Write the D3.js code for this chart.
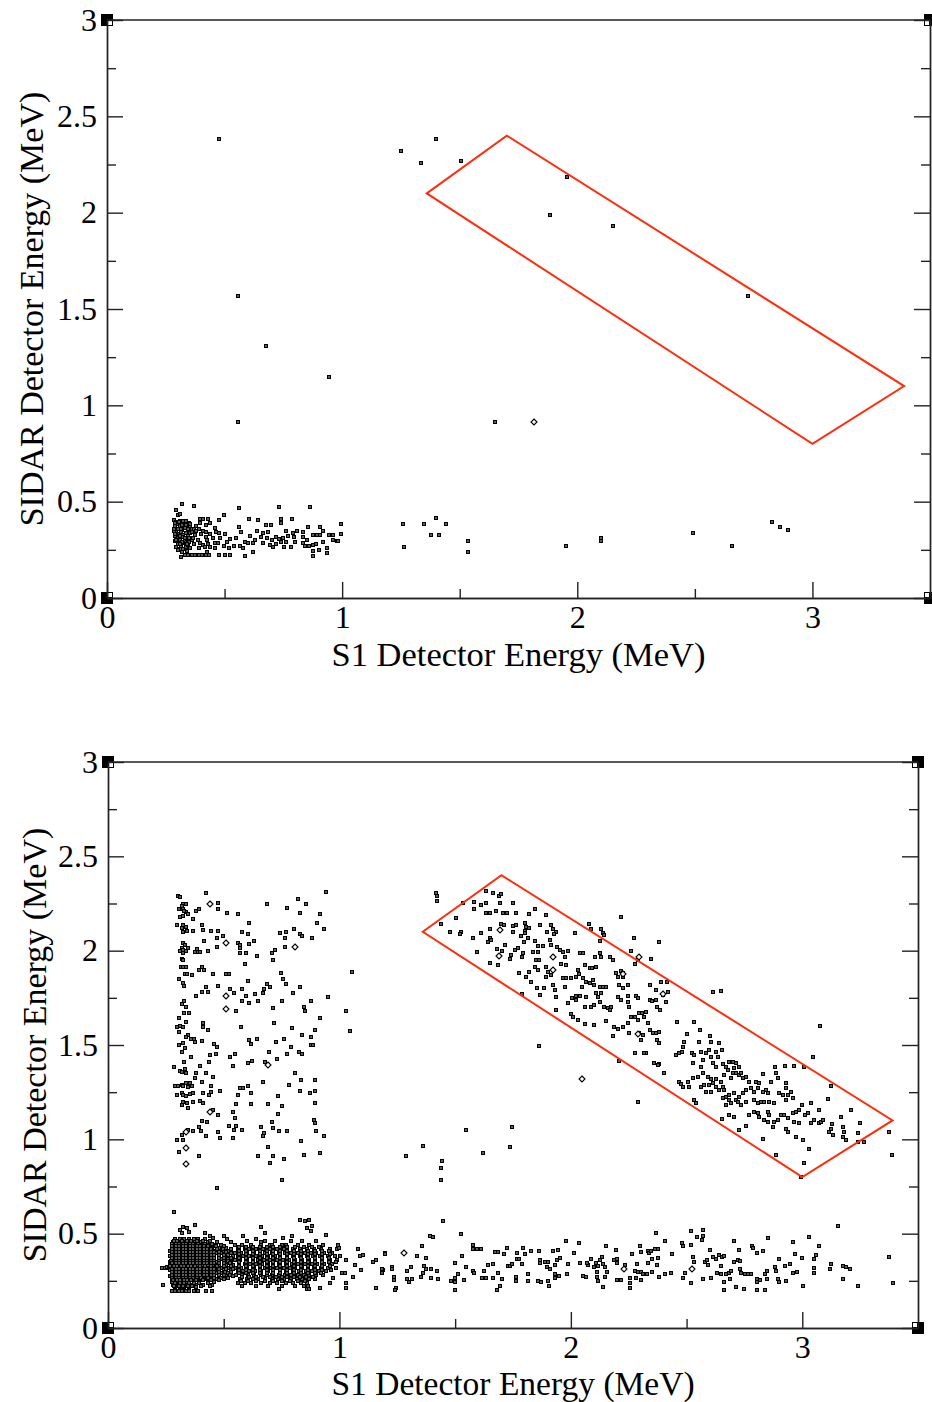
<!DOCTYPE html>
<html><head><meta charset="utf-8">
<script src="https://cdn.jsdelivr.net/npm/d3@7"></script>
<style>
body{margin:0;background:#fff}
svg{display:block}
text{font-family:"Liberation Serif","Times New Roman",serif;fill:#000}
</style>
</head><body>
<svg id="c" width="932" height="1402"></svg>
<script>
// ---------- axis ticks ----------
const xMajor = [0, 1, 2, 3];
const xMinor = [0.5, 1.5, 2.5];
const yMajor = [0, 0.5, 1, 1.5, 2, 2.5, 3];
const yMinor = [0.25, 0.75, 1.25, 1.75, 2.25, 2.75];
const xLabels = ["0", "1", "2", "3"];
const yLabels = ["0", "0.5", "1", "1.5", "2", "2.5", "3"];
const xTitle = "S1 Detector Energy (MeV)";
const yTitle = "SIDAR Detector Energy (MeV)";

// ---------- gate polygon (MeV) ----------
const gateX = [1.36, 1.70, 3.39, 3.00];
const gateY = [2.10, 2.40, 1.10, 0.80];

// ---------- top panel data ----------
const topHigh = [[0.475,2.38],[1.249,2.322],[1.336,2.256],[1.401,2.382],[1.506,2.268],[1.958,2.187],[1.884,1.986],[2.15,1.932],[2.725,1.567],[0.559,1.567],[0.678,1.308],[0.945,1.147],[0.555,0.913],[1.648,0.913]];
const topDiamonds = [[1.818,0.913]];
const topLow = [
[0.32,0.49],[0.37,0.475],[0.294,0.457],[0.56,0.465],[0.733,0.474],[0.863,0.474],[0.496,0.43],[0.30,0.43],[0.309,0.436],
[0.285,0.405],[0.295,0.395],[0.30,0.385],[0.31,0.40],[0.318,0.39],[0.325,0.398],[0.338,0.40],[0.348,0.39],[0.29,0.375],[0.30,0.36],[0.31,0.372],[0.32,0.355],[0.333,0.365],[0.343,0.35],[0.352,0.37],[0.362,0.36],[0.295,0.34],[0.305,0.33],[0.315,0.345],[0.325,0.325],[0.335,0.337],[0.345,0.32],[0.355,0.335],[0.30,0.31],[0.31,0.30],[0.32,0.315],[0.33,0.295],[0.34,0.305],[0.35,0.29],[0.36,0.30],[0.30,0.28],[0.315,0.27],[0.325,0.285],[0.335,0.265],[0.345,0.275],[0.355,0.26],[0.31,0.255],[0.32,0.24],[0.29,0.32],[0.37,0.28],[0.365,0.31],[0.283,0.35],[0.288,0.295],
[0.29,0.39],[0.305,0.395],[0.32,0.38],[0.34,0.38],[0.355,0.385],[0.285,0.36],[0.315,0.36],[0.345,0.36],[0.29,0.33],[0.31,0.32],[0.33,0.31],[0.35,0.31],[0.295,0.30],[0.32,0.29],[0.34,0.28],[0.31,0.28],[0.295,0.265],[0.325,0.255],[0.34,0.245],[0.30,0.25],[0.335,0.38],[0.36,0.345],[0.37,0.36],[0.38,0.375],[0.39,0.36],[0.40,0.33],[0.385,0.30],[0.39,0.26],[0.41,0.35],[0.44,0.33],[0.45,0.31],[0.43,0.28],[0.46,0.26],[0.48,0.31],[0.50,0.33],[0.51,0.29],[0.54,0.27],[0.55,0.31],[0.57,0.34],[0.58,0.26],[0.63,0.30],[0.64,0.35],[0.68,0.31],[0.70,0.30],[0.72,0.28],[0.76,0.29],[0.77,0.32],[0.80,0.29],[0.81,0.35],[0.85,0.30],[0.89,0.28],[0.90,0.25],[0.92,0.35],[0.96,0.30],
[0.394,0.408],[0.408,0.408],[0.43,0.408],[0.475,0.405],[0.394,0.387],[0.42,0.379],[0.436,0.387],[0.38,0.35],[0.376,0.327],[0.422,0.344],[0.42,0.318],[0.425,0.301],[0.458,0.362],[0.465,0.344],[0.476,0.339],[0.397,0.284],[0.408,0.276],[0.415,0.263],[0.458,0.284],[0.472,0.287],[0.436,0.266],[0.425,0.24],[0.524,0.305],[0.496,0.27],[0.518,0.258],[0.561,0.37],[0.564,0.27],[0.586,0.292],[0.599,0.284],[0.62,0.284],[0.609,0.322],[0.623,0.24],[0.589,0.218],[0.606,0.408],[0.641,0.405],[0.677,0.379],[0.698,0.379],[0.74,0.408],[0.787,0.408],[0.74,0.387],[0.662,0.336],[0.655,0.318],[0.684,0.344],[0.662,0.284],[0.693,0.275],[0.705,0.266],[0.719,0.318],[0.733,0.305],[0.74,0.292],[0.747,0.31],[0.761,0.349],[0.754,0.266],[0.782,0.266],[0.789,0.336],[0.794,0.315],[0.832,0.344],[0.832,0.318],[0.835,0.287],[0.843,0.27],[0.86,0.27],[0.874,0.275],[0.853,0.37],[0.907,0.37],[0.874,0.327],[0.891,0.327],[0.874,0.244],[0.874,0.218],[0.907,0.327],[0.919,0.292],[0.945,0.327],[0.959,0.327],[0.997,0.384],[0.997,0.332],[0.977,0.296],[0.984,0.298],[0.935,0.258],[0.935,0.232],
[0.313,0.215],[0.33,0.223],[0.345,0.223],[0.36,0.223],[0.375,0.223],[0.39,0.223],[0.405,0.223],[0.42,0.223],[0.435,0.223],[0.475,0.223],[0.50,0.223],[0.521,0.223],
[1.258,0.384],[1.347,0.384],[1.398,0.415],[1.44,0.384],[1.377,0.327],[1.41,0.327],[1.263,0.265],[1.534,0.296],[1.534,0.239],[1.953,0.27],[2.10,0.31],[2.10,0.296],[2.49,0.337],[2.657,0.27],[2.826,0.394],[2.864,0.369],[2.898,0.353]
];

// ---------- bottom panel data ----------
const botUpperLeft = [
[0.303,2.29],[0.31,2.285],[0.423,2.304],
[0.325,2.25],[0.335,2.245],[0.318,2.235],[0.305,2.22],[0.325,2.22],[0.336,2.203],[0.346,2.195],[0.311,2.178],[0.325,2.185],[0.33,2.21],
[0.394,2.22],[0.382,2.21],[0.477,2.255],[0.477,2.22],[0.516,2.20],[0.56,2.195],[0.368,2.167],[0.685,2.248],[0.774,2.228],[0.823,2.274],[0.857,2.248],[0.829,2.202],[0.918,2.195],[0.944,2.31],[0.608,2.145],[0.903,2.149],[0.932,2.114],
[0.30,2.138],[0.325,2.138],[0.336,2.128],[0.318,2.119],[0.325,2.10],[0.342,2.106],[0.368,2.106],[0.408,2.136],[0.411,2.11],[0.444,2.106],[0.477,2.106],[0.495,2.078],[0.473,2.066],[0.416,2.052],[0.581,2.101],[0.603,2.089],[0.631,2.052],[0.56,2.043],[0.572,2.03],[0.61,2.034],[0.57,2.013],[0.57,1.986],[0.598,1.986],[0.472,2.018],[0.642,1.972],[0.742,2.096],[0.768,2.101],[0.764,2.066],[0.803,2.114],[0.829,2.089],[0.84,2.078],[0.883,2.066],[0.764,2.018],[0.708,1.99],[0.721,2.004],[0.713,1.951],
[0.325,2.04],[0.332,2.03],[0.318,2.013],[0.325,2.004],[0.336,2.0],[0.346,2.013],[0.311,2.0],[0.325,1.985],[0.318,1.955],[0.325,1.95],[0.315,1.912],[0.325,1.912],[0.336,1.912],[0.332,1.877],[0.342,1.877],[0.361,1.872],[0.308,1.848],[0.322,1.83],[0.328,1.813],
[0.383,2.01],[0.39,1.995],[0.375,1.995],[0.397,1.995],[0.433,2.0],[0.394,1.9],[0.408,1.912],[0.414,1.898],[0.454,1.877],[0.509,1.877],[0.521,1.877],[0.593,1.93],[0.746,1.884],[0.757,1.848],[0.603,1.84],[0.477,1.813],[0.526,1.795],[0.581,1.795],[0.423,1.81],[0.433,1.783],[0.408,1.783],[0.38,1.762],[0.544,1.778],[0.598,1.762],[0.636,1.769],[0.673,1.795],[0.67,1.778],[0.685,1.824],[0.702,1.81],[0.768,1.824],[0.80,1.778],[0.829,1.81],[0.581,1.735],[0.61,1.725],[0.649,1.735],[0.754,1.735],[0.875,1.735],[0.951,1.757],
[0.328,1.735],[0.318,1.718],[0.336,1.70],[0.328,1.668],[0.351,1.668],[0.552,1.682],[0.713,1.695],[0.846,1.704],[0.85,1.682],[1.027,1.682],
[0.308,1.642],[0.339,1.624],[0.296,1.597],[0.313,1.60],[0.325,1.594],[0.308,1.571],[0.411,1.619],[0.411,1.597],[0.433,1.58],[0.575,1.594],[0.718,1.619],[0.797,1.589],[0.84,1.553],[0.879,1.541],[0.876,1.50],[0.886,1.50],[0.918,1.642],[0.895,1.58],
[0.346,1.553],[0.357,1.53],[0.372,1.53],[0.375,1.518],[0.339,1.545],[0.407,1.52],[0.459,1.504],[0.469,1.491],[0.608,1.527],[0.62,1.504],[0.644,1.53],[0.725,1.518],[0.762,1.53],[0.791,1.491],[0.826,1.465],[0.84,1.453],
[0.308,1.50],[0.325,1.509],[0.318,1.465],[0.332,1.483],[0.44,1.447],[0.466,1.453],[0.526,1.438],[0.548,1.453],[0.696,1.465],[0.731,1.426],[0.774,1.453],[0.357,1.438],
[0.329,1.412],[0.397,1.391],[0.437,1.412],[0.285,1.385],[0.311,1.364],[0.332,1.371],[0.339,1.354],[0.318,1.359],[0.538,1.391],[0.603,1.403],[0.624,1.417],[0.677,1.412],[0.382,1.35],[0.423,1.35],[0.454,1.329],[0.375,1.324],[0.807,1.35],
[0.29,1.285],[0.303,1.285],[0.318,1.29],[0.325,1.285],[0.339,1.297],[0.354,1.30],[0.361,1.282],[0.347,1.276],[0.408,1.305],[0.447,1.282],
[0.296,1.234],[0.318,1.247],[0.325,1.234],[0.339,1.229],[0.354,1.24],[0.368,1.247],[0.411,1.247],[0.437,1.234],[0.447,1.252],[0.483,1.256],[0.56,1.234],[0.57,1.27],[0.584,1.27],[0.603,1.282],[0.62,1.247],[0.67,1.305],[0.735,1.229],[0.78,1.286],[0.829,1.256],[0.872,1.247],[0.896,1.256],[0.893,1.314],[0.836,1.314],
[0.325,1.20],[0.342,1.19],[0.368,1.20],[0.397,1.204],[0.411,1.194],[0.318,1.181],[0.347,1.164],[0.555,1.187],[0.616,1.187],[0.692,1.187],[0.754,1.176],[0.895,1.194],
[0.454,1.158],[0.477,1.128],[0.538,1.146],[0.549,1.111],[0.735,1.134],[0.889,1.102],[0.896,1.088],[0.407,1.098],[0.429,1.093],[0.522,1.072],[0.555,1.072],[0.544,1.052],[0.581,1.052],[0.659,1.067],[0.708,1.093],[0.713,1.058],[0.739,1.045],[0.774,1.045],[0.90,1.045],[0.932,1.017],
[0.344,1.052],[0.368,1.045],[0.394,1.063],[0.40,1.045],[0.318,1.022],[0.296,0.996],[0.325,0.996],[0.423,1.017],[0.477,1.037],[0.483,1.005],[0.538,1.005],[0.675,1.031],[0.67,1.017],[0.834,0.991],[0.69,0.957],[0.308,0.931],[0.394,0.913],[0.649,0.911],[0.713,0.911],[0.762,0.895],[0.699,0.876],[0.846,0.916],[0.918,0.925],[0.752,0.784],[0.472,0.74],[0.285,0.613],
[1.053,1.887],[1.044,1.574]
];
const botMiddle = [
[1.548,1.052],[1.745,1.067],[1.361,0.964],[1.735,0.957],[1.289,0.913],[1.62,0.925],[1.444,0.885],[1.437,0.85],[1.437,0.784]
];
const botBand = [
[1.416,2.304],[1.421,2.29],[1.421,2.263],[1.44,2.141],[1.505,2.175],[1.479,2.101],[1.526,2.101],[1.519,2.088],[1.534,2.251],
[1.581,2.256],[1.613,2.242],[1.634,2.254],[1.634,2.318],[1.663,2.307],[1.69,2.29],[1.699,2.30],
[1.581,2.219],[1.634,2.201],[1.652,2.201],[1.678,2.212],[1.692,2.251],[1.706,2.201],[1.724,2.201],[1.75,2.254],[1.764,2.198],[1.821,2.194],[1.843,2.219],[1.891,2.189],
[1.577,2.065],[1.613,2.092],[1.649,2.113],[1.649,2.065],[1.642,2.048],[1.656,2.056],
[1.699,2.141],[1.709,2.136],[1.75,2.131],[1.764,2.136],[1.75,2.101],
[1.594,1.995],[1.68,2.007],[1.703,2.0],[1.714,2.03],[1.652,1.936],[1.685,1.924],[1.735,1.954],[1.742,1.977],[1.757,2.003],[1.771,2.012],[1.79,1.964],[1.793,1.986],
[1.80,2.145],[1.807,2.127],[1.80,2.106],[1.804,2.092],[1.819,2.118],[1.786,2.078],[1.796,2.048],[1.814,2.065],
[1.847,2.053],[1.857,2.025],[1.836,1.995],[1.857,1.995],[1.879,2.025],
[1.865,2.136],[1.896,2.101],[1.915,2.136],[1.922,2.113],[1.937,2.101],[1.929,2.088],[1.908,2.056],[1.915,2.03],[1.94,2.021],[1.951,2.003],[1.968,1.995],[1.987,2.0],[1.958,1.929],[1.98,1.924],[1.973,1.968],
[1.85,1.95],[1.862,1.95],[1.893,1.915],[1.90,1.888],[1.915,1.871],[1.893,1.862],[1.847,1.915],[1.857,1.897],[1.774,1.88],[1.807,1.862],[1.821,1.888],[1.829,1.836],[1.853,1.80],[1.882,1.80],[1.865,1.765],[1.79,1.77],
[1.922,1.818],[1.93,1.791],[1.934,1.752],[1.973,1.805],[1.966,1.853],[1.98,1.853],[2.001,1.853],[2.023,1.862],
[2.016,2.092],[2.04,1.986],[2.052,1.986],[2.059,1.924],[2.081,1.906],[2.092,1.906],[2.11,1.915],[2.03,1.897],[2.037,1.876],[2.052,1.853],[2.049,1.809],[2.066,1.836],[2.081,1.827],
[2.095,1.844],[2.102,1.818],[2.124,1.809],[2.141,1.809],[2.152,1.809],
[2.11,1.774],[2.131,1.777],[2.117,1.756],[2.124,1.73],[2.023,1.76],[2.04,1.76],[2.066,1.756],[1.987,1.72],[2.006,1.747],[2.023,1.738],[1.937,1.685],[2.001,1.664],[2.011,1.646],[2.03,1.632],[2.059,1.703],[2.088,1.703],[2.102,1.712],[2.059,1.611],[2.102,1.606],
[2.145,1.70],[2.16,1.694],[2.174,1.703],[2.167,1.685],[2.152,1.629],[2.188,1.597],[2.203,1.583],
[2.217,1.894],[2.227,1.859],[2.224,1.88],[2.196,1.88],[2.203,1.862],[2.184,1.95],[2.167,1.964],[2.131,1.964],[2.124,1.986],[2.106,1.964],
[2.078,2.141],[2.088,2.113],[2.131,2.113],[2.138,2.092],[2.145,2.083],[2.124,2.053],[2.217,2.18],[2.271,2.065],[2.383,2.047],
[2.26,2.0],[2.289,1.95],[2.279,1.929],[2.347,1.954],
[2.21,1.818],[2.224,1.80],[2.246,1.818],[2.246,1.76],[2.203,1.756],[2.282,1.76],[2.289,1.747],[2.217,1.738],[2.246,1.73],[2.253,1.703],
[2.34,1.818],[2.368,1.791],[2.39,1.836],[2.414,1.836],[2.419,1.783],
[2.34,1.738],[2.351,1.735],[2.368,1.738],[2.371,1.703],[2.386,1.685],[2.397,1.765],[2.411,1.73],
[2.26,1.65],[2.275,1.65],[2.296,1.668],[2.308,1.668],[2.314,1.65],[2.325,1.676],[2.289,1.632],
[2.296,1.562],[2.304,1.526],[2.311,1.553],[2.332,1.615],[2.34,1.58],[2.354,1.562],[2.368,1.562],[2.383,1.57],[2.371,1.526],[2.383,1.509],
[2.246,1.618],[2.25,1.562],[2.227,1.597],[2.184,1.547],[2.275,1.459],[2.325,1.459],[2.361,1.406],[2.38,1.399],[2.21,1.417],[1.862,1.494],[2.29,1.20],
[2.615,1.78],[2.65,1.785],[2.53,1.62],[3.077,1.60],[2.46,1.62],[2.5,1.56],[2.56,1.58],[2.6,1.55],
[2.318,1.456],[2.361,1.406],[2.375,1.394],[2.404,1.35],[2.454,1.447],[2.469,1.456],[2.48,1.465],[2.483,1.491],[2.49,1.518],[2.523,1.459],[2.526,1.406],[2.534,1.447],[2.562,1.465],[2.57,1.42],[2.562,1.385],[2.584,1.456],[2.598,1.473],[2.606,1.438],[2.627,1.465],[2.653,1.473],[2.634,1.438],[2.606,1.518],[2.642,1.509],[2.555,1.518],
[2.469,1.305],[2.476,1.293],[2.505,1.305],[2.512,1.279],[2.483,1.279],[2.534,1.208],[2.541,1.194],[2.526,1.323],[2.548,1.328],[2.57,1.35],[2.591,1.332],[2.606,1.318],[2.627,1.318],[2.649,1.305],
[2.562,1.279],[2.577,1.288],[2.598,1.288],[2.613,1.296],[2.627,1.279],[2.606,1.252],[2.584,1.252],[2.642,1.261],[2.656,1.279],
[2.663,1.341],[2.692,1.323],[2.699,1.35],[2.714,1.35],[2.728,1.341],[2.742,1.323],[2.757,1.332],
[2.685,1.411],[2.699,1.411],[2.714,1.406],[2.728,1.385],[2.706,1.376],[2.735,1.35],[2.613,1.403],[2.627,1.385],[2.656,1.399],[2.67,1.385],[2.678,1.367],
[2.663,1.261],[2.685,1.234],[2.706,1.243],[2.67,1.226],[2.656,1.217],[2.685,1.208],[2.714,1.208],[2.728,1.226],[2.742,1.243],[2.757,1.261],[2.778,1.27],[2.793,1.252],[2.807,1.27],[2.829,1.252],[2.843,1.261],[2.85,1.243],
[2.67,1.181],[2.692,1.19],[2.721,1.199],[2.735,1.181],[2.757,1.199],[2.793,1.208],[2.807,1.19],[2.822,1.199],[2.836,1.199],[2.858,1.199],[2.879,1.19],[2.901,1.243],[2.915,1.234],[2.937,1.234],[2.951,1.252],[2.958,1.217],[2.93,1.208],
[2.771,1.305],[2.80,1.305],[2.814,1.30],[2.865,1.305],[2.886,1.35],[2.894,1.323],[2.93,1.296],[2.93,1.27],[2.832,1.346],[2.884,1.385],[2.927,1.39],[2.966,1.39],[3.009,1.381],[3.045,1.438],
[2.653,1.11],[2.685,1.128],[2.706,1.119],[2.728,1.049],[2.757,1.07],[2.771,1.128],[2.793,1.146],[2.807,1.137],[2.814,1.119],[2.836,1.102],[2.85,1.146],[2.858,1.128],[2.85,1.093],[2.872,1.066],[2.879,1.093],[2.894,1.102],[2.908,1.128],[2.922,1.128],[2.937,1.111],[2.958,1.137],[2.973,1.146],[2.987,1.155],[2.999,1.181],[3.013,1.128],[3.023,1.137],[3.038,1.194],[3.038,1.084],[3.052,1.102],[3.074,1.084],[3.071,1.155],[3.081,1.093],[3.088,1.102],
[2.832,1.004],[2.886,0.916],[2.93,1.057],[2.937,1.04],[2.966,1.093],[2.973,1.013],[2.984,1.084],[3.004,0.996],[3.03,0.951],[3.009,0.875],[2.994,0.801],
[3.124,1.057],[3.117,1.04],[3.131,1.022],[3.128,1.08],[3.11,1.212],[3.124,1.282],[3.167,1.119],[3.174,1.063],[3.182,1.04],[3.174,1.013],[3.189,0.996],[3.21,1.158],[3.239,1.031],[3.249,1.088],[3.268,0.987],[3.239,0.987],[3.376,1.04],[3.388,0.916]
];
const botDiamonds = [[0.441,2.248],[0.509,2.043],[0.81,2.018],[0.509,1.762],[0.509,1.69],[0.692,1.394],[0.44,1.146],[0.336,1.04],[0.336,0.952],[0.336,0.869],[1.689,1.972],[1.692,2.109],[1.922,1.964],[1.922,1.897],[2.296,1.964],[2.227,1.875],[2.289,1.558],[2.397,1.77],[2.05,1.32],[1.281,0.395],[2.23,0.313],[2.525,0.313]];
const botBlob = [
[0.235,0.32],[0.245,0.32],[0.255,0.322],[0.239,0.228],[0.376,0.546],[0.419,0.505],[0.31,0.52],[0.325,0.535],[0.34,0.53],[0.35,0.51],[0.318,0.505],[0.44,0.49],[0.455,0.475],[0.50,0.49],[0.515,0.47],[0.53,0.455],[0.584,0.488],[0.663,0.537],[0.678,0.502],[0.64,0.47],[0.66,0.455],[0.70,0.44],[0.757,0.475],[0.793,0.488],[0.85,0.565],[0.86,0.53],[0.875,0.515],[0.88,0.54],[0.944,0.493],[0.829,0.57],[0.869,0.57],
[0.29,0.47],[0.31,0.47],[0.33,0.47],[0.35,0.47],[0.37,0.47],[0.39,0.47],[0.42,0.47],
[0.28,0.455],[0.30,0.455],[0.315,0.455],[0.335,0.455],[0.355,0.455],[0.375,0.455],[0.40,0.455],[0.43,0.455],[0.47,0.455],
[0.275,0.44],[0.29,0.44],[0.305,0.44],[0.32,0.44],[0.34,0.44],[0.36,0.44],[0.38,0.44],[0.395,0.44],[0.41,0.44],[0.44,0.44],[0.46,0.44],[0.49,0.44],
[0.28,0.425],[0.295,0.425],[0.31,0.425],[0.325,0.425],[0.345,0.425],[0.365,0.425],[0.385,0.425],[0.40,0.425],[0.42,0.425],[0.45,0.425],[0.48,0.425],[0.51,0.425],
[0.27,0.41],[0.285,0.41],[0.30,0.41],[0.32,0.41],[0.335,0.41],[0.35,0.41],[0.37,0.41],[0.39,0.41],[0.41,0.41],[0.43,0.41],[0.46,0.41],[0.50,0.41],[0.52,0.41],
[0.275,0.395],[0.29,0.395],[0.305,0.395],[0.315,0.395],[0.33,0.395],[0.345,0.395],[0.36,0.395],[0.375,0.395],[0.395,0.395],[0.415,0.395],[0.44,0.395],[0.47,0.395],[0.49,0.395],[0.53,0.395],
[0.27,0.38],[0.285,0.38],[0.30,0.38],[0.32,0.38],[0.335,0.38],[0.35,0.38],[0.365,0.38],[0.385,0.38],[0.40,0.38],[0.42,0.38],[0.45,0.38],[0.48,0.38],[0.51,0.38],[0.54,0.38],
[0.28,0.365],[0.295,0.365],[0.31,0.365],[0.325,0.365],[0.34,0.365],[0.355,0.365],[0.37,0.365],[0.39,0.365],[0.41,0.365],[0.43,0.365],[0.46,0.365],[0.49,0.365],[0.52,0.365],
[0.27,0.35],[0.285,0.35],[0.30,0.35],[0.315,0.35],[0.33,0.35],[0.345,0.35],[0.36,0.35],[0.38,0.35],[0.40,0.35],[0.42,0.35],[0.44,0.35],[0.47,0.35],[0.50,0.35],[0.53,0.35],
[0.275,0.335],[0.29,0.335],[0.305,0.335],[0.32,0.335],[0.335,0.335],[0.35,0.335],[0.365,0.335],[0.385,0.335],[0.405,0.335],[0.43,0.335],[0.455,0.335],[0.48,0.335],[0.51,0.335],[0.54,0.335],
[0.265,0.32],[0.28,0.32],[0.295,0.32],[0.31,0.32],[0.325,0.32],[0.34,0.32],[0.355,0.32],[0.37,0.32],[0.39,0.32],[0.41,0.32],[0.435,0.32],[0.46,0.32],[0.49,0.32],[0.52,0.32],
[0.27,0.305],[0.285,0.305],[0.30,0.305],[0.315,0.305],[0.33,0.305],[0.345,0.305],[0.36,0.305],[0.38,0.305],[0.40,0.305],[0.425,0.305],[0.45,0.305],[0.475,0.305],[0.50,0.305],[0.53,0.305],
[0.275,0.29],[0.29,0.29],[0.305,0.29],[0.32,0.29],[0.335,0.29],[0.35,0.29],[0.365,0.29],[0.385,0.29],[0.41,0.29],[0.44,0.29],[0.465,0.29],[0.49,0.29],[0.52,0.29],
[0.27,0.275],[0.285,0.275],[0.30,0.275],[0.315,0.275],[0.33,0.275],[0.345,0.275],[0.36,0.275],[0.375,0.275],[0.395,0.275],[0.42,0.275],[0.45,0.275],[0.48,0.275],[0.51,0.275],[0.54,0.275],
[0.28,0.26],[0.295,0.26],[0.31,0.26],[0.325,0.26],[0.34,0.26],[0.355,0.26],[0.37,0.26],[0.39,0.26],[0.415,0.26],[0.44,0.26],[0.47,0.26],[0.50,0.26],
[0.275,0.245],[0.29,0.245],[0.305,0.245],[0.32,0.245],[0.335,0.245],[0.35,0.245],[0.37,0.245],[0.395,0.245],[0.43,0.245],[0.46,0.245],
[0.28,0.23],[0.30,0.23],[0.32,0.23],[0.34,0.23],[0.36,0.23],[0.38,0.23],[0.41,0.23],[0.45,0.23],
[0.29,0.215],[0.31,0.215],[0.33,0.215],[0.35,0.215],[0.38,0.215],
[0.275,0.195],[0.29,0.195],[0.305,0.195],[0.32,0.195],[0.335,0.195],[0.35,0.195],[0.37,0.195],[0.39,0.195],[0.425,0.195],[0.45,0.195],
[0.60,0.46],[0.68,0.46],[0.72,0.46],[0.79,0.46],[0.84,0.46],[0.90,0.46],
[0.55,0.44],[0.58,0.44],[0.62,0.44],[0.66,0.44],[0.71,0.44],[0.75,0.44],[0.77,0.44],[0.82,0.44],[0.87,0.44],[0.93,0.44],
[0.56,0.42],[0.59,0.42],[0.61,0.42],[0.64,0.42],[0.67,0.42],[0.70,0.42],[0.73,0.42],[0.76,0.42],[0.80,0.42],[0.83,0.42],[0.86,0.42],[0.89,0.42],[0.92,0.42],[0.96,0.42],[0.99,0.42],
[0.55,0.40],[0.575,0.40],[0.60,0.40],[0.63,0.40],[0.655,0.40],[0.68,0.40],[0.71,0.40],[0.74,0.40],[0.765,0.40],[0.79,0.40],[0.82,0.40],[0.85,0.40],[0.875,0.40],[0.90,0.40],[0.935,0.40],[0.97,0.40],
[0.56,0.38],[0.585,0.38],[0.61,0.38],[0.64,0.38],[0.665,0.38],[0.69,0.38],[0.72,0.38],[0.745,0.38],[0.775,0.38],[0.80,0.38],[0.83,0.38],[0.86,0.38],[0.885,0.38],[0.915,0.38],[0.95,0.38],[0.98,0.38],
[0.55,0.36],[0.57,0.36],[0.60,0.36],[0.625,0.36],[0.65,0.36],[0.675,0.36],[0.70,0.36],[0.73,0.36],[0.755,0.36],[0.78,0.36],[0.81,0.36],[0.84,0.36],[0.87,0.36],[0.895,0.36],[0.925,0.36],[0.96,0.36],[0.99,0.36],
[0.565,0.34],[0.59,0.34],[0.615,0.34],[0.64,0.34],[0.665,0.34],[0.69,0.34],[0.715,0.34],[0.74,0.34],[0.77,0.34],[0.795,0.34],[0.82,0.34],[0.85,0.34],[0.88,0.34],[0.905,0.34],[0.935,0.34],[0.97,0.34],
[0.55,0.32],[0.575,0.32],[0.60,0.32],[0.63,0.32],[0.655,0.32],[0.68,0.32],[0.705,0.32],[0.73,0.32],[0.76,0.32],[0.785,0.32],[0.81,0.32],[0.84,0.32],[0.865,0.32],[0.89,0.32],[0.92,0.32],[0.95,0.32],[0.985,0.32],
[0.56,0.30],[0.585,0.30],[0.61,0.30],[0.635,0.30],[0.66,0.30],[0.69,0.30],[0.715,0.30],[0.745,0.30],[0.77,0.30],[0.80,0.30],[0.825,0.30],[0.855,0.30],[0.88,0.30],[0.91,0.30],[0.94,0.30],
[0.555,0.28],[0.58,0.28],[0.605,0.28],[0.63,0.28],[0.66,0.28],[0.685,0.28],[0.71,0.28],[0.74,0.28],[0.765,0.28],[0.79,0.28],[0.82,0.28],[0.845,0.28],[0.87,0.28],[0.90,0.28],[0.93,0.28],
[0.57,0.26],[0.60,0.26],[0.625,0.26],[0.65,0.26],[0.68,0.26],[0.71,0.26],[0.735,0.26],[0.76,0.26],[0.79,0.26],[0.815,0.26],[0.84,0.26],[0.87,0.26],[0.895,0.26],
[0.56,0.24],[0.59,0.24],[0.62,0.24],[0.66,0.24],[0.70,0.24],[0.73,0.24],[0.77,0.24],[0.80,0.24],[0.835,0.24],[0.86,0.24],
[0.58,0.22],[0.64,0.22],[0.69,0.22],[0.75,0.22],[0.81,0.22],[0.845,0.22],[0.865,0.22],[0.74,0.205],[0.86,0.205],[0.87,0.205],
[0.994,0.44],[0.999,0.422],[1.002,0.381],[1.03,0.36],[1.023,0.29],[1.027,0.237],[1.027,0.21],[1.059,0.272],[1.066,0.334],[1.081,0.417],[1.088,0.381],[1.102,0.387],[1.095,0.307],[1.145,0.352],[1.16,0.36],[1.196,0.396],[1.189,0.307],[1.225,0.321],[1.235,0.268],[1.243,0.214],[1.157,0.214],[0.958,0.237],[0.918,0.21],[0.973,0.263],[1.013,0.29]
];
// second, interleaved reading of the dense low-energy core
const botBlobCore = [
[0.285,0.4625],[0.30,0.4625],[0.32,0.4625],[0.34,0.4625],[0.36,0.4625],[0.385,0.4625],[0.41,0.4625],[0.44,0.4625],
[0.278,0.4475],[0.293,0.4475],[0.308,0.4475],[0.323,0.4475],[0.338,0.4475],[0.353,0.4475],[0.368,0.4475],[0.388,0.4475],[0.418,0.4475],[0.45,0.4475],
[0.278,0.4325],[0.293,0.4325],[0.308,0.4325],[0.323,0.4325],[0.338,0.4325],[0.353,0.4325],[0.368,0.4325],[0.383,0.4325],[0.398,0.4325],[0.413,0.4325],[0.433,0.4325],[0.465,0.4325],[0.50,0.4325],
[0.278,0.4175],[0.293,0.4175],[0.308,0.4175],[0.323,0.4175],[0.338,0.4175],[0.353,0.4175],[0.368,0.4175],[0.383,0.4175],[0.398,0.4175],[0.413,0.4175],[0.428,0.4175],[0.443,0.4175],[0.47,0.4175],[0.495,0.4175],[0.53,0.4175],
[0.278,0.4025],[0.293,0.4025],[0.308,0.4025],[0.323,0.4025],[0.338,0.4025],[0.353,0.4025],[0.368,0.4025],[0.383,0.4025],[0.398,0.4025],[0.413,0.4025],[0.428,0.4025],[0.443,0.4025],[0.46,0.4025],[0.48,0.4025],[0.51,0.4025],
[0.278,0.3875],[0.293,0.3875],[0.308,0.3875],[0.323,0.3875],[0.338,0.3875],[0.353,0.3875],[0.368,0.3875],[0.383,0.3875],[0.398,0.3875],[0.413,0.3875],[0.428,0.3875],[0.443,0.3875],[0.46,0.3875],[0.48,0.3875],[0.50,0.3875],[0.52,0.3875],
[0.278,0.3725],[0.293,0.3725],[0.308,0.3725],[0.323,0.3725],[0.338,0.3725],[0.353,0.3725],[0.368,0.3725],[0.383,0.3725],[0.398,0.3725],[0.413,0.3725],[0.428,0.3725],[0.443,0.3725],[0.46,0.3725],[0.48,0.3725],[0.50,0.3725],[0.53,0.3725],
[0.272,0.3575],[0.293,0.3575],[0.308,0.3575],[0.323,0.3575],[0.338,0.3575],[0.353,0.3575],[0.368,0.3575],[0.383,0.3575],[0.398,0.3575],[0.413,0.3575],[0.428,0.3575],[0.443,0.3575],[0.46,0.3575],[0.48,0.3575],[0.50,0.3575],[0.52,0.3575],
[0.278,0.3425],[0.293,0.3425],[0.308,0.3425],[0.323,0.3425],[0.338,0.3425],[0.353,0.3425],[0.368,0.3425],[0.383,0.3425],[0.398,0.3425],[0.413,0.3425],[0.428,0.3425],[0.443,0.3425],[0.46,0.3425],[0.48,0.3425],[0.50,0.3425],[0.525,0.3425],
[0.27,0.3275],[0.285,0.3275],[0.30,0.3275],[0.315,0.3275],[0.33,0.3275],[0.345,0.3275],[0.36,0.3275],[0.378,0.3275],[0.398,0.3275],[0.42,0.3275],[0.445,0.3275],[0.47,0.3275],[0.50,0.3275],[0.53,0.3275],
[0.278,0.3125],[0.293,0.3125],[0.308,0.3125],[0.323,0.3125],[0.338,0.3125],[0.353,0.3125],[0.368,0.3125],[0.383,0.3125],[0.398,0.3125],[0.413,0.3125],[0.428,0.3125],[0.443,0.3125],[0.46,0.3125],[0.48,0.3125],[0.51,0.3125],[0.54,0.3125],
[0.278,0.2975],[0.293,0.2975],[0.308,0.2975],[0.323,0.2975],[0.338,0.2975],[0.353,0.2975],[0.368,0.2975],[0.383,0.2975],[0.398,0.2975],[0.413,0.2975],[0.428,0.2975],[0.443,0.2975],[0.46,0.2975],[0.48,0.2975],[0.505,0.2975],[0.53,0.2975],
[0.278,0.2825],[0.293,0.2825],[0.308,0.2825],[0.323,0.2825],[0.338,0.2825],[0.353,0.2825],[0.368,0.2825],[0.383,0.2825],[0.398,0.2825],[0.413,0.2825],[0.428,0.2825],[0.443,0.2825],[0.46,0.2825],[0.48,0.2825],[0.50,0.2825],[0.525,0.2825],
[0.278,0.2675],[0.293,0.2675],[0.308,0.2675],[0.323,0.2675],[0.338,0.2675],[0.353,0.2675],[0.368,0.2675],[0.383,0.2675],[0.40,0.2675],[0.43,0.2675],[0.46,0.2675],[0.49,0.2675],[0.52,0.2675],
[0.283,0.2525],[0.298,0.2525],[0.313,0.2525],[0.328,0.2525],[0.343,0.2525],[0.36,0.2525],[0.38,0.2525],[0.41,0.2525],[0.445,0.2525],[0.48,0.2525],
[0.288,0.2375],[0.31,0.2375],[0.33,0.2375],[0.35,0.2375],[0.37,0.2375],[0.395,0.2375],[0.43,0.2375],
[0.285,0.2225],[0.305,0.2225],[0.325,0.2225],[0.345,0.2225],[0.365,0.2225],[0.40,0.2225],[0.44,0.2225]
];
// second, interleaved reading of the denser part of the 0.55–1.0 MeV band
const botBlobMid = [
[0.565,0.43],[0.595,0.43],[0.625,0.43],[0.655,0.43],[0.685,0.43],[0.715,0.43],[0.745,0.43],[0.775,0.43],[0.81,0.43],[0.845,0.43],[0.88,0.43],[0.91,0.43],
[0.565,0.41],[0.595,0.41],[0.625,0.41],[0.655,0.41],[0.685,0.41],[0.715,0.41],[0.745,0.41],[0.775,0.41],[0.805,0.41],[0.835,0.41],[0.865,0.41],[0.895,0.41],[0.925,0.41],[0.955,0.41],
[0.565,0.39],[0.595,0.39],[0.625,0.39],[0.655,0.39],[0.685,0.39],[0.715,0.39],[0.745,0.39],[0.775,0.39],[0.805,0.39],[0.835,0.39],[0.865,0.39],[0.895,0.39],[0.925,0.39],[0.96,0.39],
[0.565,0.37],[0.595,0.37],[0.625,0.37],[0.655,0.37],[0.685,0.37],[0.715,0.37],[0.745,0.37],[0.775,0.37],[0.805,0.37],[0.835,0.37],[0.865,0.37],[0.895,0.37],[0.925,0.37],[0.955,0.37],
[0.565,0.35],[0.595,0.35],[0.625,0.35],[0.655,0.35],[0.685,0.35],[0.715,0.35],[0.745,0.35],[0.775,0.35],[0.805,0.35],[0.835,0.35],[0.865,0.35],[0.895,0.35],[0.925,0.35],[0.955,0.35],[0.985,0.35],
[0.565,0.33],[0.595,0.33],[0.625,0.33],[0.655,0.33],[0.685,0.33],[0.715,0.33],[0.745,0.33],[0.775,0.33],[0.805,0.33],[0.835,0.33],[0.865,0.33],[0.895,0.33],[0.925,0.33],[0.96,0.33],
[0.565,0.31],[0.595,0.31],[0.625,0.31],[0.655,0.31],[0.685,0.31],[0.715,0.31],[0.745,0.31],[0.775,0.31],[0.805,0.31],[0.835,0.31],[0.865,0.31],[0.895,0.31],[0.925,0.31],[0.965,0.31],
[0.565,0.29],[0.595,0.29],[0.625,0.29],[0.655,0.29],[0.685,0.29],[0.715,0.29],[0.745,0.29],[0.775,0.29],[0.805,0.29],[0.835,0.29],[0.865,0.29],[0.895,0.29],[0.92,0.29],
[0.58,0.27],[0.61,0.27],[0.64,0.27],[0.67,0.27],[0.70,0.27],[0.725,0.27],[0.75,0.27],[0.775,0.27],[0.805,0.27],[0.83,0.27],[0.855,0.27],[0.885,0.27],
[0.575,0.25],[0.605,0.25],[0.64,0.25],[0.68,0.25],[0.715,0.25],[0.75,0.25],[0.785,0.25],[0.82,0.25],[0.85,0.25]
];
const botStrip = [
[1.196,0.39],[1.186,0.313],[1.186,0.29],[1.226,0.313],[1.236,0.254],[1.241,0.2],[1.293,0.304],[1.29,0.262],[1.30,0.243],[1.315,0.258],[1.311,0.322],[1.335,0.382],[1.356,0.432],[1.372,0.371],[1.367,0.331],[1.372,0.313],[1.36,0.29],[1.353,0.272],[1.394,0.313],[1.39,0.486],[1.405,0.481],[1.397,0.267],[1.424,0.262],[1.42,0.304],
[1.449,0.565],[1.483,0.249],[1.498,0.243],[1.498,0.267],[1.501,0.2],[1.498,0.346],[1.513,0.285],[1.527,0.50],[1.531,0.382],[1.538,0.254],[1.549,0.322],
[1.576,0.441],[1.576,0.419],[1.595,0.419],[1.613,0.419],[1.579,0.304],[1.583,0.29],[1.617,0.267],[1.635,0.267],[1.662,0.267],[1.625,0.304],[1.643,0.335],[1.665,0.34],[1.672,0.404],[1.687,0.404],[1.687,0.29],[1.702,0.262],[1.695,0.221],[1.683,0.2],[1.71,0.39],[1.722,0.422],[1.727,0.331],[1.739,0.327],[1.747,0.34],[1.762,0.272],[1.762,0.249],[1.766,0.40],[1.769,0.368],[1.777,0.368],[1.787,0.34],[1.792,0.422],[1.802,0.39],[1.814,0.285],[1.814,0.249],[1.826,0.408],[1.862,0.408],[1.866,0.358],[1.866,0.346],[1.888,0.349],[1.903,0.349],[1.896,0.322],[1.91,0.313],[1.933,0.335],[1.94,0.358],[1.921,0.408],[1.945,0.413],[1.951,0.371],[1.933,0.285],[1.933,0.267],[1.948,0.276],[1.903,0.249],[1.906,0.225],[1.858,0.249],[1.873,0.243],[1.977,0.459],[1.989,0.34],[1.985,0.285],[2.015,0.40],[2.037,0.45],[2.04,0.346],[2.052,0.276],[2.067,0.272],[2.074,0.335],[2.07,0.346],[2.089,0.364],[2.10,0.322],[2.108,0.346],[2.119,0.331],[2.126,0.358],[2.134,0.377],[2.138,0.34],[2.149,0.322],[2.156,0.295],[2.149,0.272],[2.111,0.295],[2.114,0.272],[2.119,0.249],[2.141,0.218],[2.153,0.437],[2.193,0.413],[2.186,0.358],[2.198,0.368],[2.198,0.346],[2.201,0.254],[2.216,0.254],[2.233,0.335],[2.257,0.267],[2.257,0.24],[2.257,0.212],[2.265,0.39],[2.275,0.304],[2.29,0.295],[2.302,0.295],[2.312,0.285],[2.327,0.285],[2.35,0.295],[2.379,0.272],[2.283,0.267],[2.302,0.254],[2.287,0.34],[2.297,0.437],[2.305,0.404],[2.332,0.408],[2.338,0.40],[2.347,0.408],[2.332,0.346],[2.35,0.368],[2.364,0.419],[2.376,0.419],[2.369,0.505],[2.372,0.335],[2.376,0.371],[2.406,0.459],[2.406,0.285],[2.431,0.29],[2.439,0.39],[2.48,0.45],[2.483,0.432],[2.483,0.267],[2.495,0.294],[2.52,0.514],[2.52,0.441],[2.52,0.24],[2.528,0.377],[2.531,0.349],[2.543,0.481],[2.565,0.468],[2.573,0.486],[2.57,0.518],[2.57,0.262],[2.58,0.349],[2.588,0.358],[2.591,0.335],[2.603,0.413],[2.605,0.267],[2.614,0.377],[2.625,0.368],[2.64,0.386],[2.647,0.331],[2.654,0.377],[2.662,0.382],[2.63,0.294],[2.647,0.285],[2.67,0.285],[2.684,0.294],[2.692,0.304],[2.707,0.349],[2.721,0.358],[2.733,0.353],[2.662,0.243],[2.662,0.20],[2.689,0.262],[2.707,0.463],[2.714,0.218],[2.725,0.413],[2.729,0.313],[2.737,0.294],[2.748,0.207],[2.751,0.285],[2.766,0.285],[2.778,0.285],[2.781,0.437],[2.788,0.422],[2.803,0.395],[2.803,0.262],[2.803,0.243],[2.818,0.254],[2.803,0.20],[2.84,0.20],[2.829,0.408],[2.838,0.285],[2.848,0.304],[2.852,0.477],[2.848,0.258],[2.882,0.322],[2.888,0.304],[2.90,0.364],[2.893,0.262],[2.90,0.243],[2.93,0.249],[2.927,0.331],[2.945,0.34],[2.96,0.455],[2.967,0.39],[2.96,0.294],[2.975,0.298],[2.997,0.371],[3.001,0.225],[3.031,0.481],[3.049,0.368],[3.061,0.386],[3.052,0.316],[3.052,0.294],[3.071,0.432],[3.12,0.313],[3.126,0.34],[3.153,0.541],[3.175,0.327],[3.19,0.322],[3.205,0.313],[3.175,0.262],[3.242,0.221],[3.373,0.377],[3.391,0.24]
];

// ---------- drawing ----------
const svg = d3.select("#c");
const panels = [
  {left:107, right:930, top:20, bottom:598, squares:[...topHigh, ...topLow], diamonds:topDiamonds, titleY:666, titleFs:34.5, yTitleX:43},
  {left:108, right:918, top:762, bottom:1328, squares:[...botUpperLeft, ...botMiddle, ...botBand, ...botBlob, ...botBlobCore, ...botBlobMid, ...botStrip], diamonds:botDiamonds, titleY:1395, titleFs:33.5, yTitleX:46}
];
const AX = "#222";
panels.forEach(p => {
  const x = d3.scaleLinear().domain([0, 3.5]).range([p.left, p.right]);
  const y = d3.scaleLinear().domain([0, 3]).range([p.bottom, p.top]);
  const g = svg.append("g");

  // corner markers
  [[p.left,p.top,1,1],[p.right,p.top,-1,1],[p.left,p.bottom,1,-1],[p.right,p.bottom,-1,-1]].forEach(([cx,cy,sx,sy]) => {
    g.append("rect").attr("x", cx-6).attr("y", cy-6).attr("width", 12).attr("height", 12).attr("fill", "#000");
    g.append("rect").attr("x", sx>0 ? cx+1 : cx-5).attr("y", sy>0 ? cy+1 : cy-5).attr("width", 4).attr("height", 4).attr("fill", "#fff");
  });

  // squares (4px outline squares with a tiny light centre)
  g.append("g").selectAll("rect").data(p.squares).join("rect")
    .attr("x", d => Math.round(x(d[0])) - 1.3)
    .attr("y", d => Math.round(y(d[1])) - 1.3)
    .attr("width", 2.6).attr("height", 2.6)
    .attr("fill", "#fff").attr("stroke", "#000").attr("stroke-width", 1.4);
  // diamonds
  g.append("g").selectAll("path").data(p.diamonds).join("path")
    .attr("transform", d => `translate(${Math.round(x(d[0]))},${Math.round(y(d[1]))})`)
    .attr("d", "M0,-3L3,0L0,3L-3,0Z")
    .attr("fill", "#fff").attr("stroke", "#000").attr("stroke-width", 1.1);

  // gate
  const poly = gateX.map((v, i) => [x(v), y(gateY[i])]);
  g.append("path").attr("d", d3.line()(poly) + "Z")
    .attr("fill", "none").attr("stroke", "#ff2d0a").attr("stroke-width", 2).attr("stroke-linejoin", "miter");

  // axes
  const fs = 32;
  g.append("g").attr("transform", `translate(0,${p.bottom})`)
    .call(d3.axisBottom(x).tickValues(xMajor).tickSize(-16).tickSizeOuter(0).tickPadding(7).tickFormat((d,i) => xLabels[i]));
  g.append("g").attr("transform", `translate(0,${p.bottom})`)
    .call(d3.axisBottom(x).tickValues(xMinor).tickSize(-9).tickSizeOuter(0).tickFormat(""));
  g.append("g").attr("transform", `translate(${p.left},0)`)
    .call(d3.axisLeft(y).tickValues(yMajor).tickSize(-16).tickSizeOuter(0).tickPadding(10).tickFormat((d,i) => yLabels[i]));
  g.append("g").attr("transform", `translate(${p.left},0)`)
    .call(d3.axisLeft(y).tickValues(yMinor).tickSize(-9).tickSizeOuter(0).tickFormat(""));
  g.append("g").attr("transform", `translate(${p.right},0)`)
    .call(d3.axisRight(y).tickValues(yMajor).tickSize(-16).tickSizeOuter(0).tickFormat(""));
  g.append("g").attr("transform", `translate(${p.right},0)`)
    .call(d3.axisRight(y).tickValues(yMinor).tickSize(-9).tickSizeOuter(0).tickFormat(""));
  g.append("line").attr("x1", p.left).attr("x2", p.right).attr("y1", p.top).attr("y2", p.top);
  g.selectAll("path.domain, .tick line, line").attr("stroke", AX).attr("stroke-width", 1.4);
  g.selectAll(".tick text").attr("font-size", fs).attr("font-family", "Liberation Serif, serif").attr("fill", "#000");

  // titles
  g.append("text").attr("x", (p.left+p.right)/2).attr("y", p.titleY).attr("text-anchor", "middle")
    .attr("font-size", p.titleFs).text(xTitle);
  g.append("text").attr("transform", `translate(${p.yTitleX},${(p.top+p.bottom)/2}) rotate(-90)`)
    .attr("text-anchor", "middle").attr("font-size", 34).text(yTitle);
});
</script>
</body></html>
